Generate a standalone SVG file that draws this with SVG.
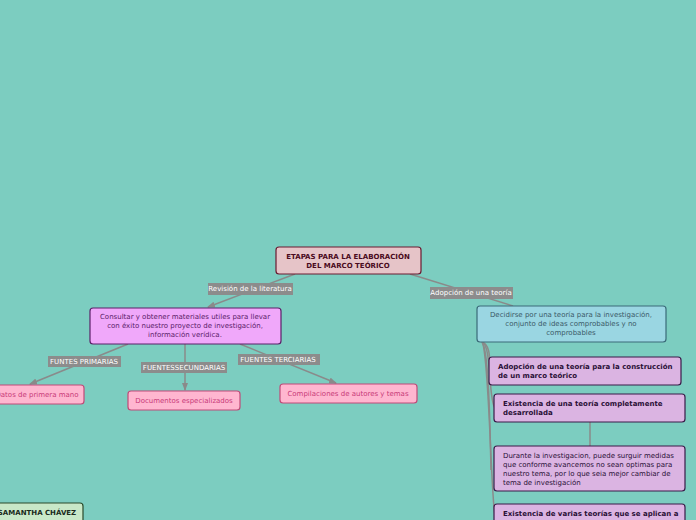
<svg xmlns="http://www.w3.org/2000/svg" width="696" height="520" viewBox="0 0 696 520">
<style>
text{font-family:"DejaVu Sans",sans-serif;font-size:7px}
.lbl rect{fill:#8c8c8c}
.lbl text{fill:#fff;text-anchor:middle}
.c{fill:none;stroke:#8a8a8a;stroke-width:1.5}
.pk rect{fill:#ffb6d0;stroke:#c04a78;stroke-width:1.2}
.pk text{fill:#c83a78;text-anchor:middle}
.pu rect{fill:#dbb4e2;stroke:#3a1a48;stroke-width:1.2}
.pu text{fill:#2a1036}
.b{font-weight:bold}
</style>
<defs><marker id="a" markerWidth="8" markerHeight="6" refX="7" refY="3" orient="auto" markerUnits="userSpaceOnUse"><path d="M0,0L8,3L0,6z" fill="#8a8a8a"/></marker></defs>
<rect width="696" height="520" fill="#7ccdc0"/>
<g id="connectors">
<path class="c" d="M295,274L208,307" marker-end="url(#a)"/>
<path class="c" d="M410,274L513,306"/>
<path class="c" d="M128,344L30,384" marker-end="url(#a)"/>
<path class="c" d="M185,344L185,390" marker-end="url(#a)"/>
<path class="c" d="M240,344L336,383" marker-end="url(#a)"/>
<path class="c" d="M482,342C492,345 489,365 490,370"/>
<path class="c" d="M482,342C492,345 488,400 495,408"/>
<path class="c" d="M482,342C489,350 490,430 491,470"/>
<path class="c" d="M482,342C489,350 491,500 495,515"/>
<path class="c" d="M590,422L590,446"/>
</g>
<g id="root"><rect x="276" y="247" width="145" height="27" rx="3" fill="#e6c4c8" stroke="#6a1a30" stroke-width="1.2"/>
<text x="348" y="259" text-anchor="middle" class="b" fill="#4a0a20">ETAPAS PARA LA ELABORACIÓN</text><text x="348" y="268" text-anchor="middle" class="b" fill="#4a0a20">DEL MARCO TEÓRICO</text></g>
<g id="l1" class="lbl"><rect x="208" y="283" width="85" height="12"/><text x="250" y="291">Revisión de la literatura</text></g>
<g id="l2" class="lbl"><rect x="430" y="287" width="83" height="12"/><text x="471" y="295">Adopción de una teoría</text></g>
<g id="consultar"><rect x="90" y="308" width="191" height="36" rx="3" fill="#f0a8fa" stroke="#5a2068" stroke-width="1.2"/>
<text text-anchor="middle" fill="#5a2068"><tspan x="185" y="319">Consultar y obtener materiales utiles para llevar</tspan><tspan x="185" y="328">con éxito nuestro proyecto de investigación,</tspan><tspan x="185" y="337">información verídica.</tspan></text></g>
<g id="l3" class="lbl"><rect x="48" y="356" width="73" height="11"/><text x="84" y="364">FUNTES PRIMARIAS</text></g>
<g id="l4" class="lbl"><rect x="141" y="362" width="86" height="11"/><text x="184" y="370">FUENTESSECUNDARIAS</text></g>
<g id="l5" class="lbl"><rect x="238" y="354" width="82" height="11"/><text x="278" y="362">FUENTES TERCIARIAS</text></g>
<g id="p1" class="pk"><rect x="-10" y="385" width="94" height="19" rx="3"/><text x="37" y="397">Datos de primera mano</text></g>
<g id="p2" class="pk"><rect x="128" y="391" width="112" height="19" rx="3"/><text x="184" y="403">Documentos especializados</text></g>
<g id="p3" class="pk"><rect x="280" y="384" width="137" height="19" rx="3"/><text x="348" y="396">Compilaciones de autores y temas</text></g>
<g id="decidirse"><rect x="477" y="306" width="189" height="36" rx="3" fill="#9ad6e2" stroke="#3a6a78" stroke-width="1.2"/>
<text text-anchor="middle" fill="#3a5a68"><tspan x="571" y="317">Decidirse por una teoría para la investigación,</tspan><tspan x="571" y="326">conjunto de ideas comprobables y no</tspan><tspan x="571" y="335">comprobables</tspan></text></g>
<g id="q1" class="pu"><rect x="489" y="357" width="192" height="28" rx="3"/><text class="b"><tspan x="498" y="369">Adopción de una teoría para la construcción</tspan><tspan x="498" y="378">de un marco teórico</tspan></text></g>
<g id="q2" class="pu"><rect x="494" y="394" width="191" height="28" rx="3"/><text class="b"><tspan x="503" y="406">Existencia de una teoría completamente</tspan><tspan x="503" y="415">desarrollada</tspan></text></g>
<g id="q3" class="pu"><rect x="494" y="446" width="191" height="45" rx="3"/><text><tspan x="503" y="458">Durante la investigacion, puede surguir medidas</tspan><tspan x="503" y="467">que conforme avancemos no sean optimas para</tspan><tspan x="503" y="476">nuestro tema, por lo que seia mejor cambiar de</tspan><tspan x="503" y="485">tema de investigación</tspan></text></g>
<g id="q4" class="pu"><rect x="494" y="504" width="191" height="30" rx="3"/><text class="b"><tspan x="503" y="516">Existencia de varias teorías que se aplican a</tspan></text></g>
<g id="autor"><rect x="-10" y="503" width="93" height="24" rx="3" fill="#c8e8c8" stroke="#2a4a2a" stroke-width="1.2"/><text x="37" y="515" text-anchor="middle" class="b" fill="#1a2a1a">SAMANTHA CHÁVEZ</text></g>
</svg>
